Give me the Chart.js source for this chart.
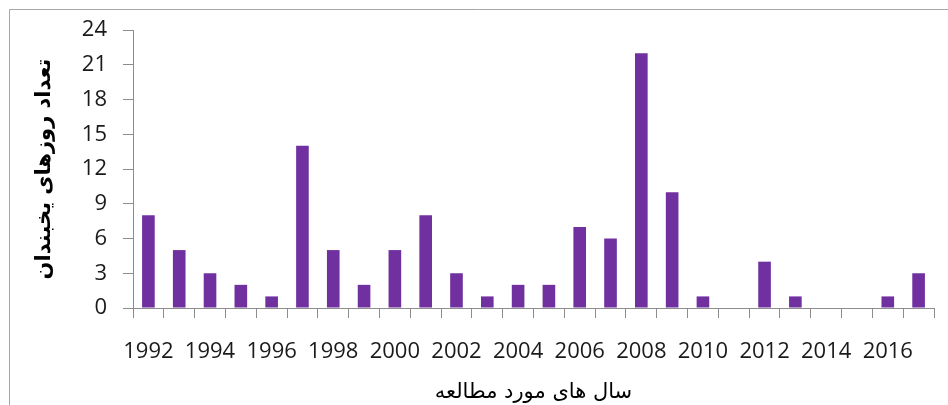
<!DOCTYPE html>
<html>
<head>
<meta charset="utf-8">
<script src="https://cdn.jsdelivr.net/npm/chart.js@4"></script>
<style>
     html, body { margin: 0; padding: 0; background: #ffffff; }
     #wrap { width: 948px; height: 405px; position: relative; }
</style>
</head>
<body>
<div id="wrap"><canvas id="frostChart"></canvas></div>
<script>
// years on the x axis
const years = ["1992", "1993", "1994", "1995", "1996", "1997", "1998", "1999", "2000", "2001",
     "2002", "2003", "2004", "2005", "2006", "2007", "2008", "2009", "2010", "2011",
     "2012", "2013", "2014", "2015", "2016", "2017"];
// number of frost days per year
const frostDays = [8, 5, 3, 2, 1, 14, 5, 2, 5, 8, 3, 1, 2, 2, 7, 6, 22, 10, 1, 0, 4, 1, 0, 0, 1, 3];
const yTicks = [0, 3, 6, 9, 12, 15, 18, 21, 24];
const xTitle = "سال های مورد مطالعه";
const yTitle = "تعداد روزهای یخبندان";

const axisGray = "#8c8c8c";

// draws the gray frame lines at the top and left of the picture
const framePlugin = {
     id: 'frame',
     beforeDraw: function (chart) {
          var ctx = chart.ctx;
          ctx.save();
          ctx.strokeStyle = "#a6a6a6";
          ctx.lineWidth = 1;
          ctx.beginPath();
          ctx.moveTo(9.5, chart.height);
          ctx.lineTo(9.5, 9.5);
          ctx.lineTo(chart.width, 9.5);
          ctx.stroke();
          ctx.restore();
     }
};

function createFrostChart() {
     var ctx = document.getElementById('frostChart').getContext('2d');

     window.frostChart = new Chart(ctx, {
          type: 'bar',
          data: {
               labels: years,
               datasets: [{
                    data: frostDays,
                    backgroundColor: "#7030A0",
                    barPercentage: 0.41,
                    categoryPercentage: 1
               }]
          },
          options: {
               responsive: true,
               maintainAspectRatio: false,
               animation: false,
               layout: { padding: { top: 30, right: 14, bottom: 0, left: 0 } },
               plugins: {
                    legend: { display: false },
                    tooltip: { enabled: false }
               },
               scales: {
                    x: {
                         grid: {
                              offset: true,
                              drawOnChartArea: false,
                              drawTicks: true,
                              tickLength: 10,
                              color: axisGray
                         },
                         border: { color: axisGray },
                         ticks: {
                              autoSkip: false,
                              maxRotation: 0,
                              padding: 21,
                              color: "#1a1a1a",
                              font: { family: "'Open Sans'", size: 22 },
                              callback: function (value, index) {
                                   return index % 2 === 0 ? years[index] : '';
                              }
                         },
                         title: {
                              display: true,
                              text: xTitle,
                              color: "#000000",
                              font: { family: "'DejaVu Sans'", size: 21 },
                              padding: { top: 8, bottom: 0 }
                         },
                         afterFit: function (scale) { scale.height = 97; }
                    },
                    y: {
                         min: 0,
                         max: 24,
                         afterBuildTicks: function (scale) {
                              scale.ticks = yTicks.map(function (v) { return { value: v }; });
                         },
                         grid: {
                              drawOnChartArea: false,
                              drawTicks: true,
                              tickLength: 10,
                              color: axisGray
                         },
                         border: { color: axisGray },
                         ticks: {
                              padding: 16,
                              color: "#1a1a1a",
                              font: { family: "'Open Sans'", size: 22 }
                         },
                         title: {
                              display: true,
                              text: yTitle,
                              color: "#000000",
                              font: { family: "'DejaVu Sans'", size: 21, weight: 'bold' },
                              padding: { top: 32, bottom: 0 }
                         },
                         afterFit: function (scale) { scale.width = 133; }
                    }
               }
          },
          plugins: [framePlugin]
     });
}

document.addEventListener('DOMContentLoaded', function () {
     createFrostChart();
});
</script>
</body>
</html>
